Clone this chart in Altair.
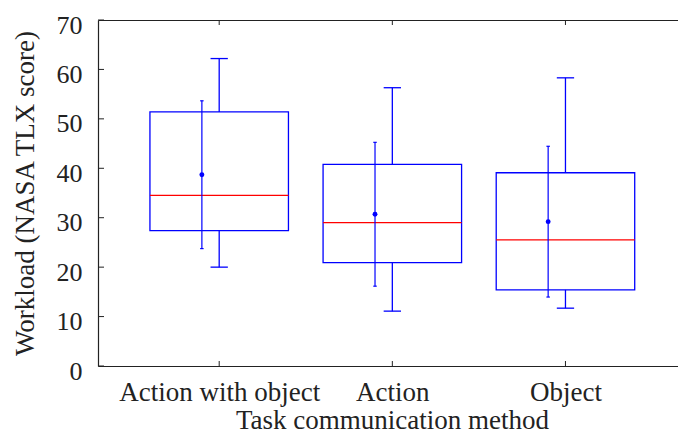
import json
import altair as alt
import pandas as pd

# Workload per task communication method
methods = ["Action with object", "Action", "Object"]
whisker_low = [20.0, 11.1, 11.7]
q1 = [27.4, 20.9, 15.4]
median = [34.5, 29.0, 25.5]
q3 = [51.4, 40.8, 39.1]
whisker_high = [62.2, 56.3, 58.3]
mean = [38.7, 30.7, 29.2]
sd = [14.95, 14.55, 15.25]
y_ticks = [0, 10, 20, 30, 40, 50, 60, 70]

BLUE = "#0000ff"
RED = "#ff0000"
AXIS = "#222222"
FONT = "Liberation Serif"

df = pd.DataFrame({
    "pos": list(range(1, len(methods) + 1)),
    "method": methods,
    "lo": whisker_low,
    "q1": q1,
    "med": median,
    "q3": q3,
    "hi": whisker_high,
    "mean": mean,
    "sd": sd,
})
ticks_df = pd.DataFrame({"v": y_ticks})

x_scale = alt.Scale(domain=[0.3, 3.65], nice=False, zero=False)
y_scale = alt.Scale(domain=[0, 70], nice=False)
label_expr = f"{json.dumps(methods)}[datum.value - 1]"

base = alt.Chart(df).transform_calculate(
    bx1="datum.pos - 0.4",
    bx2="datum.pos + 0.4",
    cx1="datum.pos - 0.05",
    cx2="datum.pos + 0.05",
    mx="datum.pos - 0.1",
    mc1="datum.pos - 0.11",
    mc2="datum.pos - 0.09",
    up="datum.mean + datum.sd",
    dn="datum.mean - datum.sd",
)

x_bottom = alt.X(
    "pos:Q", scale=x_scale,
    axis=alt.Axis(
        values=[1, 2, 3], labelExpr=label_expr, title="Task communication method",
        ticks=False, tickSize=0, grid=False, domainColor=AXIS, domainWidth=1.2,
        labelFont=FONT, labelFontSize=27, labelColor=AXIS, labelBaseline="alphabetic",
        labelPadding=34, labelFlush=False, labelOverlap=False, labelLimit=0,
        titleFont=FONT, titleFontSize=27, titleFontWeight="normal", titleColor=AXIS,
        titleBaseline="alphabetic", titleX=294, titleY=62,
    ),
)
y_left = alt.Y(
    "q1:Q", scale=y_scale,
    axis=alt.Axis(
        values=y_ticks, title="Workload (NASA TLX score)",
        ticks=False, tickSize=0, grid=False, domainColor=AXIS, domainWidth=1.2,
        labelFont=FONT, labelFontSize=26, labelColor=AXIS, labelBaseline="alphabetic",
        labelOffset=13, labelPadding=16, labelFlush=False, labelLimit=0,
        titleFont=FONT, titleFontSize=27, titleFontWeight="normal", titleColor=AXIS,
        titleBaseline="alphabetic", titleX=-65, titleY=173,
    ),
)

boxes = base.mark_rect(fill="white", stroke=BLUE, strokeWidth=1.3).encode(
    x=alt.X("bx1:Q", scale=x_scale, axis=None), x2="bx2:Q",
    y=y_left, y2="q3:Q",
)
# bottom axis carrier
bottom_axis = base.mark_point(opacity=0).encode(x=x_bottom, y=alt.Y("med:Q", scale=y_scale, axis=None))
# frame line along the top
top_axis = base.mark_point(opacity=0).encode(
    x=alt.X("pos:Q", scale=x_scale, axis=alt.Axis(
        orient="top", labels=False, ticks=False, title=None, grid=False,
        domainColor=AXIS, domainWidth=1.2)),
    y=alt.Y("med:Q", scale=y_scale, axis=None),
)

whisk_hi = base.mark_rule(color=BLUE, strokeWidth=1.3).encode(
    x=alt.X("pos:Q", scale=x_scale, axis=None), y=alt.Y("q3:Q", scale=y_scale, axis=None), y2="hi:Q")
whisk_lo = base.mark_rule(color=BLUE, strokeWidth=1.3).encode(
    x=alt.X("pos:Q", scale=x_scale, axis=None), y=alt.Y("lo:Q", scale=y_scale, axis=None), y2="q1:Q")
cap_hi = base.mark_rule(color=BLUE, strokeWidth=1.3).encode(
    x=alt.X("cx1:Q", scale=x_scale, axis=None), x2="cx2:Q", y=alt.Y("hi:Q", scale=y_scale, axis=None))
cap_lo = base.mark_rule(color=BLUE, strokeWidth=1.3).encode(
    x=alt.X("cx1:Q", scale=x_scale, axis=None), x2="cx2:Q", y=alt.Y("lo:Q", scale=y_scale, axis=None))
med_line = base.mark_rule(color=RED, strokeWidth=1.2).encode(
    x=alt.X("bx1:Q", scale=x_scale, axis=None), x2="bx2:Q", y=alt.Y("med:Q", scale=y_scale, axis=None))

err = base.mark_rule(color=BLUE, strokeWidth=1.2).encode(
    x=alt.X("mx:Q", scale=x_scale, axis=None), y=alt.Y("dn:Q", scale=y_scale, axis=None), y2="up:Q")
err_cap_up = base.mark_rule(color=BLUE, strokeWidth=1.2).encode(
    x=alt.X("mc1:Q", scale=x_scale, axis=None), x2="mc2:Q", y=alt.Y("up:Q", scale=y_scale, axis=None))
err_cap_dn = base.mark_rule(color=BLUE, strokeWidth=1.2).encode(
    x=alt.X("mc1:Q", scale=x_scale, axis=None), x2="mc2:Q", y=alt.Y("dn:Q", scale=y_scale, axis=None))
mean_pt = base.mark_circle(color=BLUE, opacity=1, size=24).encode(
    x=alt.X("mx:Q", scale=x_scale, axis=None), y=alt.Y("mean:Q", scale=y_scale, axis=None))

# inward tick marks
y_tick_marks = alt.Chart(ticks_df).mark_rule(color=AXIS, strokeWidth=1).encode(
    y=alt.Y("v:Q", scale=y_scale, axis=None), x=alt.value(0), x2=alt.value(6))
x_tick_bottom = base.mark_rule(color=AXIS, strokeWidth=1).encode(
    x=alt.X("pos:Q", scale=x_scale, axis=None), y=alt.value(346), y2=alt.value(341))
x_tick_top = base.mark_rule(color=AXIS, strokeWidth=1).encode(
    x=alt.X("pos:Q", scale=x_scale, axis=None), y=alt.value(0), y2=alt.value(5))

chart = alt.layer(
    boxes, bottom_axis, top_axis, whisk_hi, whisk_lo, cap_hi, cap_lo, med_line,
    err, err_cap_up, err_cap_dn, mean_pt, y_tick_marks, x_tick_bottom, x_tick_top,
).resolve_axis(x="independent", y="independent").properties(
    width=580,
    height=346,
    padding={"left": 98, "top": 20, "right": 0, "bottom": 78},
    autosize=alt.AutoSizeParams(type="none"),
    background="white",
).configure_view(stroke=None)

chart.save("out.html", embed_options={"renderer": "svg", "actions": False})
